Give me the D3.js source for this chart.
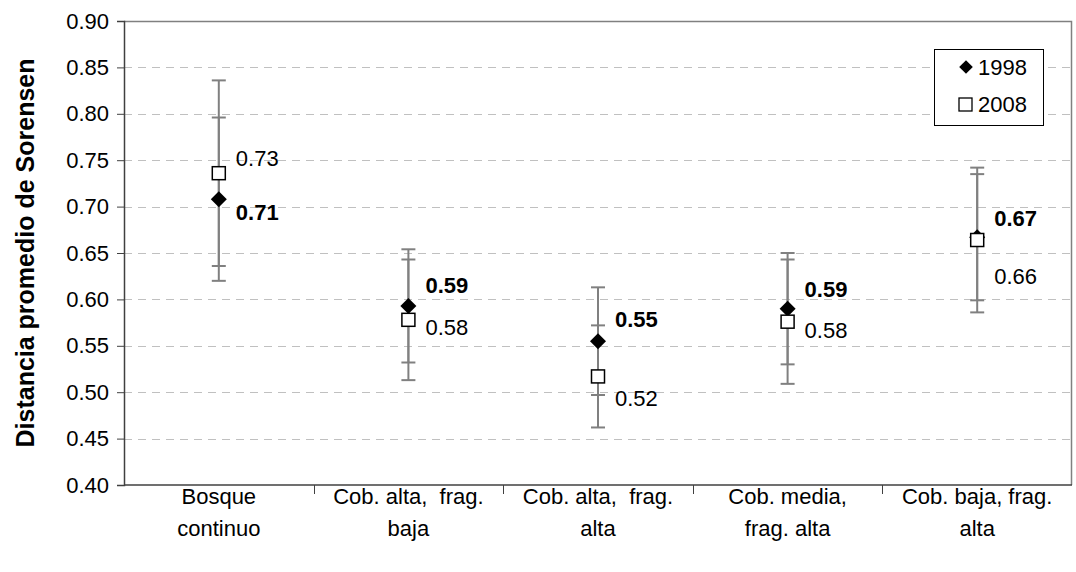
<!DOCTYPE html>
<html>
<head>
<meta charset="utf-8">
<script src="https://cdn.jsdelivr.net/npm/d3@7"></script>
<style>
  body { margin: 0; background: #fff; }
  svg text { font-family: "Liberation Sans", Arial, sans-serif; fill: #000; }
</style>
</head>
<body>
<div id="chart"></div>
<script>
// sorensen distance by landscape class, 1998 vs 2008

var categories = [['Bosque', 'continuo'],
                  ['Cob. alta,  frag.', 'baja'],
                  ['Cob. alta,  frag.', 'alta'],
                  ['Cob. media,', 'frag. alta'],
                  ['Cob. baja, frag.', 'alta']]

var series = ['1998', '2008']
var values1998 = [0.708, 0.593, 0.555, 0.590, 0.667]
var values2008 = [0.736, 0.578, 0.517, 0.576, 0.664]
var err1998 = [0.088, 0.061, 0.058, 0.060, 0.068]
var err2008 = [0.100, 0.065, 0.055, 0.067, 0.078]
var labels1998 = ['0.71', '0.59', '0.55', '0.59', '0.67']
var labels2008 = ['0.73', '0.58', '0.52', '0.58', '0.66']
var yTicks = [0.40, 0.45, 0.50, 0.55, 0.60, 0.65, 0.70, 0.75, 0.80, 0.85, 0.90]

var width = 1076,
    height = 572,
    plotLeft = 124,
    plotRight = 1072,
    plotTop = 21,
    plotBottom = 485,
    capHalf = 7,
    fontSize = '22px'

var svg = d3.select('#chart').append('svg')
    .attr('width', width)
    .attr('height', height)

var x = d3.scaleBand()
    .domain(d3.range(categories.length))
    .range([plotLeft, plotRight])

var y = d3.scaleLinear()
    .domain([0.40, 0.90])
    .range([plotBottom, plotTop])

function cx(i){ return x(i) + x.bandwidth() / 2 }

// grid lines
svg.append('g').selectAll('line').data(yTicks.slice(1, -1))
  .enter().append('line')
    .attr('x1', plotLeft).attr('x2', plotRight)
    .attr('y1', function(d){ return Math.round(y(d)) + 0.5 })
    .attr('y2', function(d){ return Math.round(y(d)) + 0.5 })
    .style('stroke', '#c0c0c0')
    .style('stroke-dasharray', '8,6')

// top / right frame
svg.append('path')
    .attr('d', 'M' + plotLeft + ',' + (plotTop + 0.5) + 'H' + (plotRight - 0.5) + 'V' + plotBottom)
    .style('fill', 'none')
    .style('stroke', '#808080')
    .style('stroke-width', 1.5)

// y axis
var yAxis = svg.append('g')
    .attr('transform', 'translate(' + plotLeft + ',0)')
    .call(d3.axisLeft(y).tickValues(yTicks).tickFormat(d3.format('.2f')).tickSize(7).tickPadding(8))
yAxis.selectAll('text').style('font-size', fontSize).style('font-family', '"Liberation Sans", Arial, sans-serif')
yAxis.select('.domain').style('stroke', '#404040').style('stroke-width', 1.5)
yAxis.selectAll('.tick line').style('stroke', '#404040')

// x axis, ticks between categories
var xAxis = svg.append('g')
xAxis.append('line')
    .attr('x1', plotLeft).attr('x2', plotRight)
    .attr('y1', plotBottom).attr('y2', plotBottom)
    .style('stroke', '#404040').style('stroke-width', 1.5)
xAxis.selectAll('line.tk').data(d3.range(1, categories.length))
  .enter().append('line')
    .classed('tk', true)
    .attr('x1', function(d){ return Math.round(x(d)) + 0.5 })
    .attr('x2', function(d){ return Math.round(x(d)) + 0.5 })
    .attr('y1', plotBottom).attr('y2', plotBottom + 9)
    .style('stroke', '#404040')

xAxis.selectAll('text.cat').data(categories)
  .enter().append('text')
    .classed('cat', true)
    .attr('text-anchor', 'middle')
    .attr('y', 504)
    .style('font-size', fontSize)
    .style('white-space', 'pre')
    .each(function(d, i){
      var t = d3.select(this)
      d.forEach(function(line, j){
        t.append('tspan')
          .attr('x', cx(i))
          .attr('dy', j === 0 ? 0 : 32)
          .text(line)
      })
    })

// axis title
svg.append('text')
    .attr('transform', 'translate(34,' + ((plotTop + plotBottom) / 2) + ') rotate(-90)')
    .attr('text-anchor', 'middle')
    .style('font-size', '25px')
    .style('font-weight', 'bold')
    .text('Distancia promedio de Sorensen')

// error bars
function errorBars(vals, errs){
  var g = svg.append('g').style('stroke', '#808080').style('stroke-width', 2)
  g.selectAll('line.bar').data(vals)
    .enter().append('line')
      .attr('x1', function(d,i){ return cx(i) }).attr('x2', function(d,i){ return cx(i) })
      .attr('y1', function(d,i){ return y(d + errs[i]) })
      .attr('y2', function(d,i){ return y(d - errs[i]) })
  g.selectAll('line.cap').data(vals.map(function(d,i){ return [i, d + errs[i]] })
      .concat(vals.map(function(d,i){ return [i, d - errs[i]] })))
    .enter().append('line')
      .attr('x1', function(d){ return cx(d[0]) - capHalf })
      .attr('x2', function(d){ return cx(d[0]) + capHalf })
      .attr('y1', function(d){ return y(d[1]) })
      .attr('y2', function(d){ return y(d[1]) })
}
errorBars(values2008, err2008)
errorBars(values1998, err1998)

var diamond = 'M0,-8L8,0L0,8L-8,0Z'

// 1998 points
svg.selectAll('path.p98').data(values1998)
  .enter().append('path')
    .classed('p98', true)
    .attr('d', diamond)
    .attr('transform', function(d,i){ return 'translate(' + cx(i) + ',' + y(d) + ')' })
    .style('fill', '#000')

// 2008 points
svg.selectAll('rect.p08').data(values2008)
  .enter().append('rect')
    .classed('p08', true)
    .attr('x', function(d,i){ return cx(i) - 6.5 })
    .attr('y', function(d){ return y(d) - 6.5 })
    .attr('width', 13).attr('height', 13)
    .style('fill', '#fff')
    .style('stroke', '#000')
    .style('stroke-width', 1.5)

// data labels, vertical nudges picked by eye
var dy1998 = [13, -21, -22, -20, -19]
var dy2008 = [-15, 7, 22, 8, 36]

svg.selectAll('text.l98').data(values1998)
  .enter().append('text')
    .classed('l98', true)
    .attr('x', function(d,i){ return cx(i) + 17 })
    .attr('y', function(d,i){ return y(d) + dy1998[i] + 8 })
    .style('font-size', fontSize)
    .style('font-weight', 'bold')
    .text(function(d,i){ return labels1998[i] })

svg.selectAll('text.l08').data(values2008)
  .enter().append('text')
    .classed('l08', true)
    .attr('x', function(d,i){ return cx(i) + 17 })
    .attr('y', function(d,i){ return y(d) + dy2008[i] + 8 })
    .style('font-size', fontSize)
    .text(function(d,i){ return labels2008[i] })

// legend
var legend = svg.append('g').attr('transform', 'translate(934,49)')
legend.append('rect')
    .attr('x', 0.5).attr('y', 0.5)
    .attr('width', 109).attr('height', 76)
    .style('fill', '#fff').style('stroke', '#000')
legend.append('path')
    .attr('d', diamond)
    .attr('transform', 'translate(32,18) scale(0.85)')
    .style('fill', '#000')
legend.append('rect')
    .attr('x', 25).attr('y', 49).attr('width', 13).attr('height', 13)
    .style('fill', '#fff').style('stroke', '#000').style('stroke-width', 1.3)
legend.selectAll('text').data(series)
  .enter().append('text')
    .attr('x', 44)
    .attr('y', function(d,i){ return 26 + i * 37 })
    .style('font-size', fontSize)
    .text(function(d){ return d })
</script>
</body>
</html>
